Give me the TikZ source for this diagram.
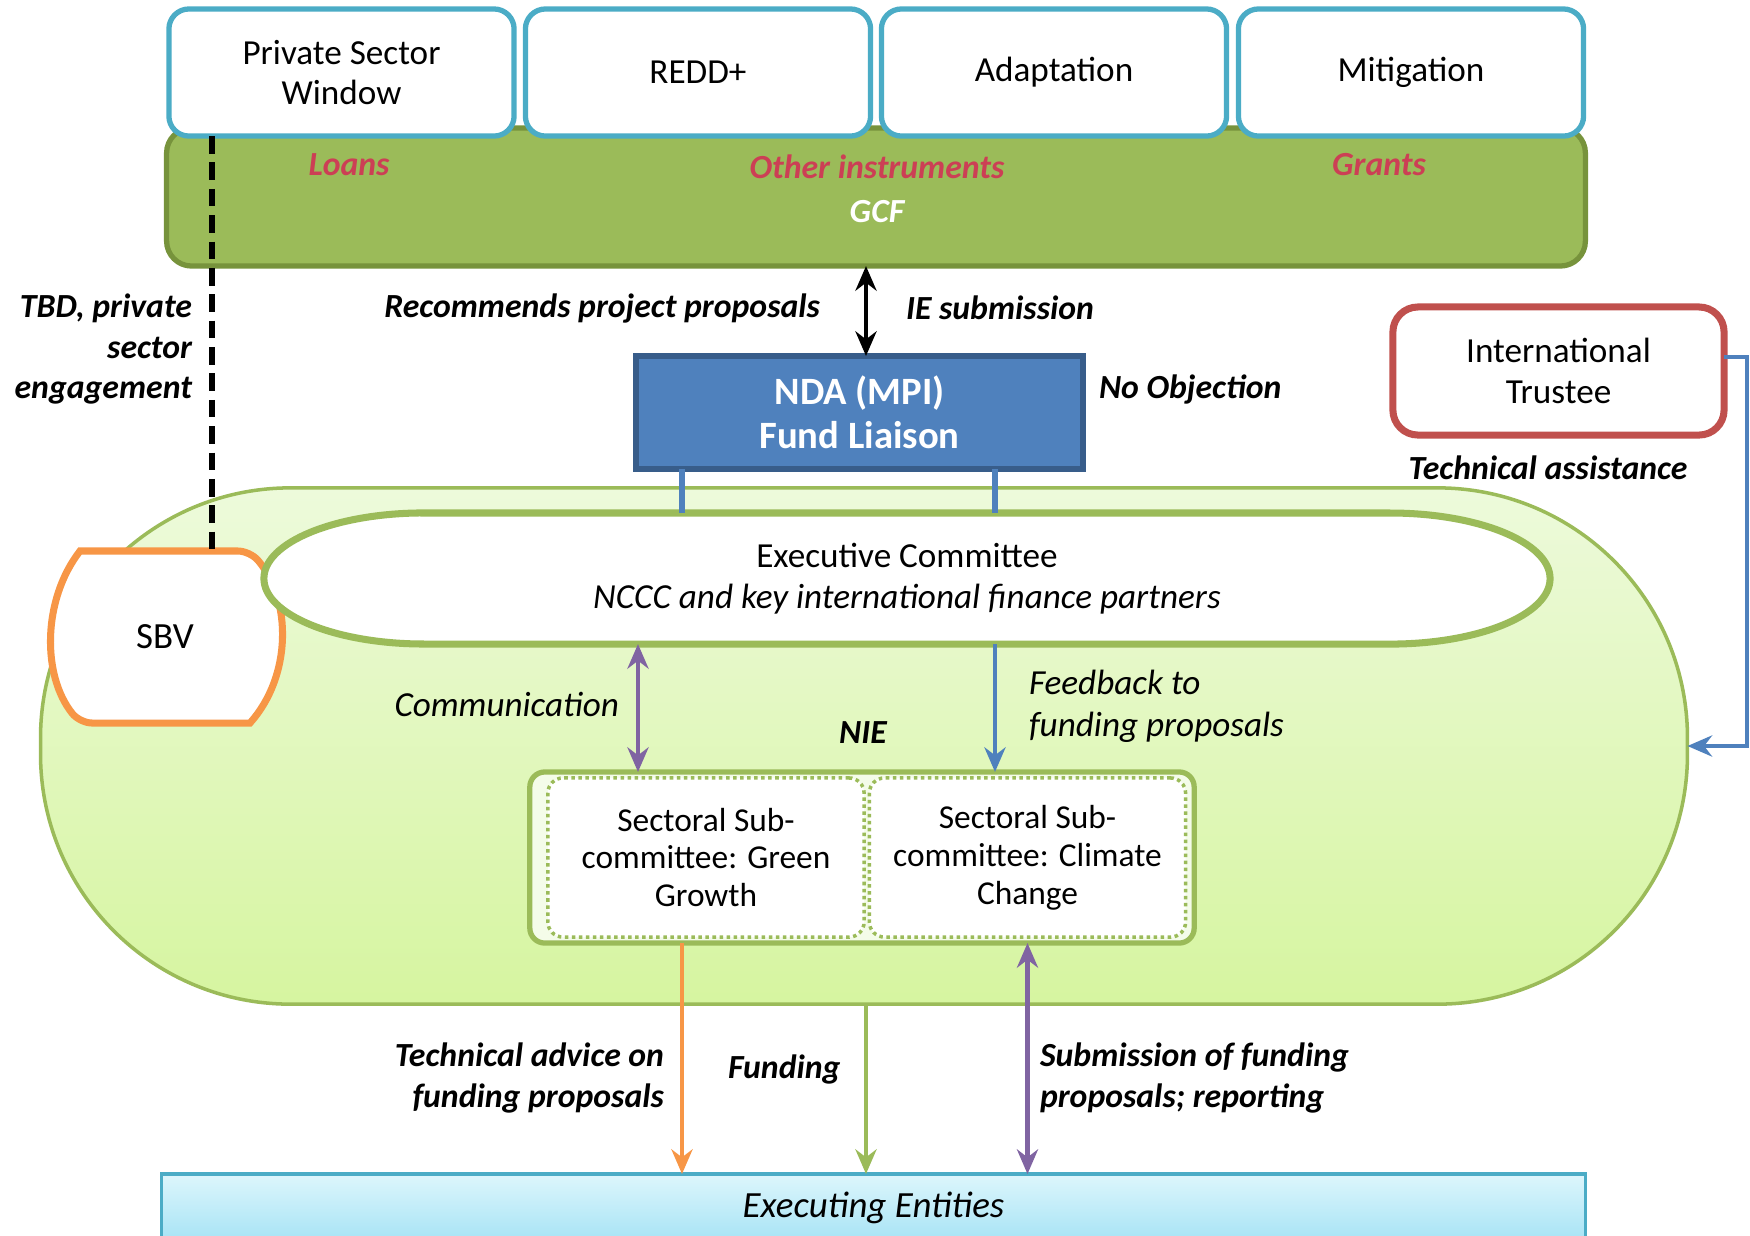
\documentclass[tikz,border=0pt]{standalone}
\usepackage{fontspec}
\setmainfont{Carlito}
\usetikzlibrary{arrows.meta}
\definecolor{gcfgreen}{HTML}{9BBB59}
\definecolor{gcfdark}{HTML}{77933C}
\definecolor{winblue}{HTML}{4BACC6}
\definecolor{lblred}{HTML}{CC3F55}
\definecolor{ndablue}{HTML}{4F81BD}
\definecolor{ndadark}{HTML}{385D8A}
\definecolor{trustred}{HTML}{C0504D}
\definecolor{sbvorange}{HTML}{F79646}
\definecolor{commpurple}{HTML}{8064A2}
\definecolor{nietop}{HTML}{EDFADB}
\definecolor{niebot}{HTML}{D6F5A0}
\definecolor{exectop}{HTML}{DDF6FC}
\definecolor{execbot}{HTML}{A6E3F5}
\begin{document}
\begin{tikzpicture}[x=0.01cm,y=-0.01cm,
    every node/.style={inner sep=0pt,outer sep=0pt},
    >={Stealth[length=7pt,width=6pt]},
    window/.style={draw=winblue,line width=1.5pt,fill=white,rounded corners=0.2cm,
      minimum width=3.45cm,minimum height=1.27cm,align=center,
      font=\fontsize{10}{11.5}\selectfont},
    gcfbar/.style={draw=gcfdark,line width=1.5pt,fill=gcfgreen,rounded corners=0.25cm,
      minimum width=14.18cm,minimum height=1.38cm},
    lbl/.style={font=\fontsize{9.6}{11.6}\selectfont\bfseries\itshape},
    redlbl/.style={lbl,text=lblred},
    ilbl/.style={font=\fontsize{10}{12}\selectfont\itshape},
    ndabox/.style={draw=ndadark,line width=1.5pt,fill=ndablue,text=white,align=center,
      minimum width=4.47cm,minimum height=1.13cm,
      font=\fontsize{11}{12.5}\selectfont\bfseries},
    trustbox/.style={draw=trustred,line width=2pt,fill=white,rounded corners=0.25cm,
      minimum width=3.31cm,minimum height=1.28cm,align=center,
      font=\fontsize{10}{11.5}\selectfont},
    niebox/.style={draw=gcfgreen,line width=1pt,top color=nietop,bottom color=niebot,
      rounded corners=2.5cm,minimum width=16.46cm,minimum height=5.16cm},
    subbox/.style={draw=gcfgreen,line width=1.5pt,fill=nietop!60!white,rounded corners=0.15cm,
      minimum width=6.64cm,minimum height=1.71cm},
    sector/.style={draw=gcfgreen,densely dotted,line width=1pt,fill=white,rounded corners=0.15cm,
      minimum width=3.16cm,minimum height=1.59cm,align=center,
      font=\fontsize{9.5}{10.8}\selectfont},
    execbox/.style={draw=winblue,line width=1pt,top color=exectop,bottom color=execbot,
      minimum width=14.23cm,minimum height=0.68cm,font=\fontsize{10.5}{13}\selectfont\itshape},
    flow/.style={line width=1.3pt}
  ]
  \useasboundingbox (0,0) rectangle (1750,1235);

  \node[niebox] (nie) at (864,746) {};
  \node[gcfbar] (gcf) at (876,197) {};
  \node[window] (psw) at (341.5,72.5) {Private Sector\\Window};
  \node[window] (redd) at (698,72.5) {REDD+};
  \node[window] (adapt) at (1054,72.5) {Adaptation};
  \node[window] (mitig) at (1411,72.5) {Mitigation};
  \node[redlbl] (loans) at (349,165) {Loans};
  \node[redlbl] (other) at (877,167) {Other instruments};
  \node[redlbl] (grants) at (1379,165) {Grants};
  \node[lbl,text=white] (gcflbl) at (877,212) {GCF};

  \coordinate (tbd) at (212,0);
  \coordinate (xc) at (638,0);
  \coordinate (xl) at (682,0);
  \coordinate (xm) at (866,0);
  \coordinate (xr) at (995,0);

  \draw[sbvorange,line width=2pt,fill=white,rounded corners=0.12cm] (80,551) -- (250,551)
    [sharp corners] .. controls (292,600) and (292,676) .. (250,723)
    [rounded corners=0.12cm] -- (80,723)
    [sharp corners] .. controls (42,676) and (42,600) .. cycle;
  \node (sbv) at (165,637) [minimum width=2.27cm,minimum height=1.72cm,
    font=\fontsize{10.5}{12}\selectfont] {SBV};
  \draw[black,dash pattern=on 5pt off 2.5pt,line width=1.6pt] (tbd |- psw.south) -- (tbd |- sbv.north);

  \draw[gcfgreen,line width=2pt,fill=white] (424,513) -- (1390,513)
    arc[start angle=90,end angle=-90,x radius=1.6cm,y radius=0.655cm] -- (424,644)
    arc[start angle=270,end angle=90,x radius=1.6cm,y radius=0.655cm] -- cycle;
  \node[align=center,minimum width=12.87cm,minimum height=1.31cm,
    font=\fontsize{10}{11.8}\selectfont] (excom) at (907,578.5)
    {Executive Committee\\\textit{NCCC and key international finance partners}};

  \node[ndabox] (nda) at (859.5,412.5) {NDA (MPI)\\Fund Liaison};
  \node[trustbox] (trustee) at (1558.5,371) {International\\Trustee};

  \node[subbox] (subs) at (862,857.5) {};
  \node[sector] (gg) at (706,857.5) {Sectoral Sub-\\committee: Green\\Growth};
  \node[sector] (cc) at (1027.5,857.5) {Sectoral Sub-\\committee: Climate\\Change};

  \node[execbox] (exec) at (873.5,1208) {Executing Entities};

  \draw[flow,<->] (xm |- gcf.south) -- (xm |- nda.north);
  \draw[ndablue,line width=1.5pt] (xl |- nda.south) -- (xl |- excom.north);
  \draw[ndablue,line width=1.5pt] (xr |- nda.south) -- (xr |- excom.north);
  \draw[flow,ndablue,->] ([yshift=0.14cm]trustee.east) -- ++(23,0) |- (nie.east);
  \draw[flow,commpurple,<->] (xc |- excom.south) -- (xc |- subs.north);
  \draw[flow,ndablue,->] (xr |- excom.south) -- (xr |- subs.north);
  \draw[flow,sbvorange,->] (xl |- subs.south) -- (xl |- exec.north);
  \draw[flow,gcfgreen,->] (xm |- nie.south) -- (xm |- exec.north);
  \draw[flow,commpurple,<->] (cc |- subs.south) -- (cc |- exec.north);

  \node[lbl,anchor=east,align=right] (tbdlbl) at (192,349) {TBD, private\\sector\\engagement};
  \node[lbl,anchor=east] (recom) at (820,308) {Recommends project proposals};
  \node[lbl,anchor=west] (iesub) at (906,308) {IE submission};
  \node[lbl,anchor=west] (noobj) at (1099,389) {No Objection};
  \node[lbl] (techas) at (1548,468) {Technical assistance};
  \node[ilbl,anchor=east] (comm) at (619,704) {Communication};
  \node[ilbl,anchor=west,align=left] (feed) at (1029,706) {Feedback to\\funding proposals};
  \node[lbl] (nielbl) at (863,733) {NIE};
  \node[lbl,anchor=east,align=right] (techadv) at (664,1078) {Technical advice on\\funding proposals};
  \node[lbl,anchor=west] (fund) at (728,1069) {Funding};
  \node[lbl,anchor=west,align=left] (submis) at (1040,1078) {Submission of funding\\proposals; reporting};
\end{tikzpicture}
\end{document}
